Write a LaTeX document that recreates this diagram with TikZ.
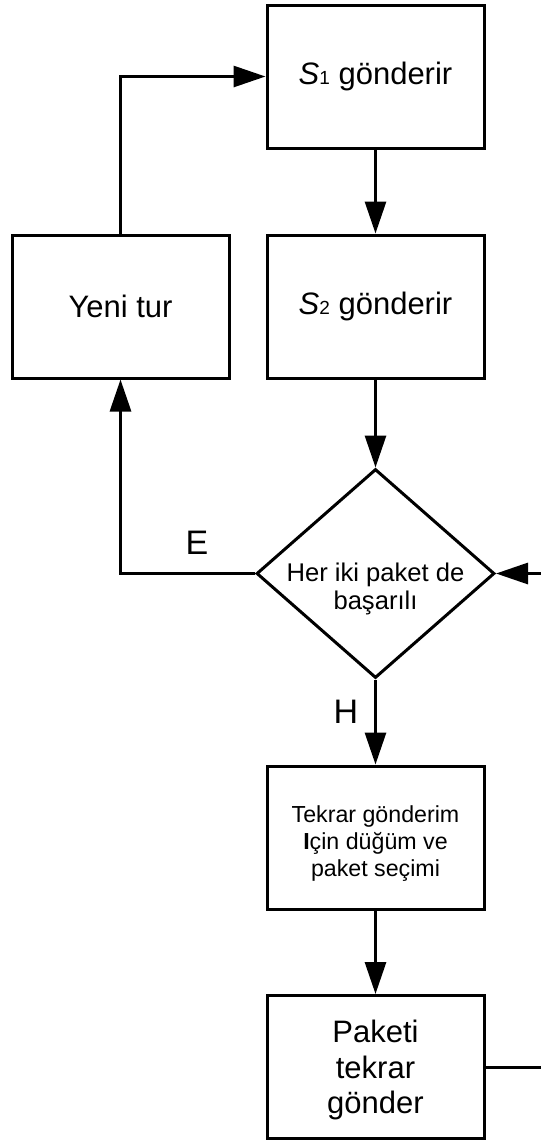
\documentclass[tikz,border=0pt]{standalone}
\usepackage{fontspec}
\setmainfont{Liberation Sans}
\usetikzlibrary{shapes.geometric,arrows.meta}
\begin{document}
\begin{tikzpicture}[x=0.5pt,y=-0.5pt,
  box/.style={draw,line width=1.5pt,minimum width=108.5pt,minimum height=71.5pt,inner sep=0pt},
  dia/.style={draw,diamond,line width=1.5pt,minimum width=119pt,minimum height=104.5pt,inner sep=0pt},
  txt/.style={align=center,inner sep=0pt},
  conn/.style={line width=1.5pt},
  arr/.style={conn,-{Triangle[length=16pt,width=10.5pt]}},
  lbl/.style={font=\fontsize{17}{17}\selectfont,inner sep=0pt}
]
\useasboundingbox (0,0) rectangle (541,1142);
\clip (0,0) rectangle (541,1142);
\fill[white] (0,0) rectangle (541,1142);
\node[box,font=\fontsize{15.5}{18}\selectfont] (s1) at (375.5,76.5) {\textit{S}{\fontsize{9.5}{10}\selectfont 1} gönderir};
\node[box,font=\fontsize{15.5}{18}\selectfont] (s2) at (375.5,306.5) {\textit{S}{\fontsize{9.5}{10}\selectfont 2} gönderir};
\node[box,font=\fontsize{15.5}{18}\selectfont] (yeni) at (120.5,306.5) {Yeni tur};
\node[dia] (d) at (375.5,573.5) {};
\node[txt,font=\fontsize{12.8}{14}\selectfont] (dt) at (375.5,589) {Her iki paket de\\başarılı};
\node[box] (tek) at (375.5,837.5) {};
\node[txt,font=\fontsize{11.6}{13.5}\selectfont] (tt) at (375.5,844) {Tekrar gönderim\\{\bfseries I}çin düğüm ve\\paket seçimi};
\node[box] (pak) at (375.5,1067) {};
\node[txt,font=\fontsize{15.5}{17.75}\selectfont] (pt) at (375.5,1070) {Paketi\\tekrar\\gönder};
\node[lbl] (e) at (197,543) {E};
\node[lbl] (h) at (346,712) {H};
\coordinate (r1) at (600,1067);
\coordinate (r2) at (600,573.5);
\draw[arr] (s1) -- (s2);
\draw[arr] (s2) -- (d.north);
\draw[arr] (yeni.north) |- (s1.west);
\draw[arr] (d.west) -| (yeni.south);
\draw[arr] (d.south) -- (tek.north);
\draw[arr] (tek.south) -- (pak.north);
\draw[arr] (pak.east) -- (r1) -- (r2) -- (d.east);
\end{tikzpicture}
\end{document}
